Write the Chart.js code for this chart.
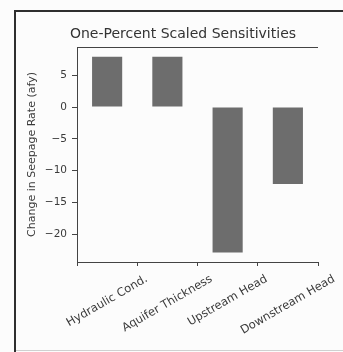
<!DOCTYPE html>
<html>
<head>
<meta charset="utf-8">
<script src="https://cdn.jsdelivr.net/npm/chart.js@4.4.0/dist/chart.umd.min.js"></script>
<style>
    html, body { margin: 0; padding: 0; background: #fcfcfc; }
    #wrap { width: 343px; height: 352px; }
</style>
</head>
<body>
<div id="wrap"><canvas id="chart"></canvas></div>
<script>
const categories = ['Hydraulic Cond.', 'Aquifer Thickness', 'Upstream Head', 'Downstream Head'];
const sensitivities = [7.9, 7.9, -22.9, -12.1];
const yTicks = [-20, -15, -10, -5, 0, 5];
const chartTitle = 'One-Percent Scaled Sensitivities';
const yTitle = 'Change in Seepage Rate (afy)';

const FONT = "'DejaVu Sans', sans-serif";
const INK = '#3a3a3a';

// frame, top spine, title and rotated category labels
const decor = {
    id: 'decor',
    beforeDraw(chart) {
        const ctx = chart.ctx;
        ctx.save();
        ctx.fillStyle = '#fcfcfc';
        ctx.fillRect(0, 0, chart.width, chart.height);
        ctx.strokeStyle = '#2e2e2e';
        ctx.lineWidth = 2;
        ctx.beginPath();
        ctx.moveTo(15, chart.height);
        ctx.lineTo(15, 11);
        ctx.lineTo(chart.width, 11);
        ctx.stroke();
        ctx.strokeStyle = '#d0d0d0';
        ctx.lineWidth = 1;
        ctx.beginPath();
        ctx.moveTo(16, 350.5);
        ctx.lineTo(chart.width, 350.5);
        ctx.stroke();
        ctx.restore();
    },
    afterDraw(chart) {
        const ctx = chart.ctx;
        const area = chart.chartArea;
        const x = chart.scales.x;
        ctx.save();
        ctx.strokeStyle = '#444';
        ctx.lineWidth = 1;
        ctx.beginPath();
        ctx.moveTo(area.left, area.top + 0.5);
        ctx.lineTo(area.right, area.top + 0.5);
        ctx.stroke();

        ctx.fillStyle = '#333';
        ctx.font = '14px ' + FONT;
        ctx.textAlign = 'center';
        ctx.textBaseline = 'middle';
        ctx.fillText(chartTitle, 183, 34);

        ctx.font = '11.5px ' + FONT;
        ctx.fillStyle = INK;
        const ang = 30 * Math.PI / 180;
        const h = 12;
        categories.forEach((c, i) => {
            const px = x.getPixelForTick(i);
            const L = ctx.measureText(c).width;
            const half = (L * Math.sin(ang) + h * Math.cos(ang)) / 2;
            ctx.save();
            ctx.translate(px, area.bottom + 11 + half);
            ctx.rotate(-ang);
            ctx.fillText(c, 0, 0);
            ctx.restore();
        });
        ctx.restore();
    }
};

new Chart(document.getElementById('chart'), {
    type: 'bar',
    data: {
        labels: categories,
        datasets: [{
            data: sensitivities,
            backgroundColor: '#6d6d6d',
            borderWidth: 0,
            barPercentage: 0.5,
            categoryPercentage: 1.0
        }]
    },
    options: {
        responsive: true,
        maintainAspectRatio: false,
        animation: false,
        layout: { padding: { left: 20, right: 25, top: 47, bottom: 0 } },
        plugins: {
            legend: { display: false },
            tooltip: { enabled: false }
        },
        scales: {
            x: {
                offset: true,
                grid: { display: true, drawOnChartArea: false, tickLength: 4, color: '#444' },
                border: { display: true, color: '#444', width: 1 },
                ticks: { display: false },
                afterFit: s => { s.height = 90; }
            },
            y: {
                min: -24.4,
                max: 9.45,
                grid: { display: true, drawOnChartArea: false, tickLength: 5, color: '#444' },
                border: { display: true, color: '#444', width: 1 },
                ticks: {
                    padding: 5,
                    color: INK,
                    font: { family: FONT, size: 10.5 },
                    callback: v => String(v).replace('-', '\u2212')
                },
                afterBuildTicks: s => { s.ticks = yTicks.map(v => ({ value: v })); },
                title: {
                    display: true,
                    text: yTitle,
                    color: INK,
                    font: { family: FONT, size: 11 },
                    padding: { top: 6, bottom: 0 }
                },
                afterFit: s => { s.width = 57; }
            }
        }
    },
    plugins: [decor]
});
</script>
</body>
</html>
